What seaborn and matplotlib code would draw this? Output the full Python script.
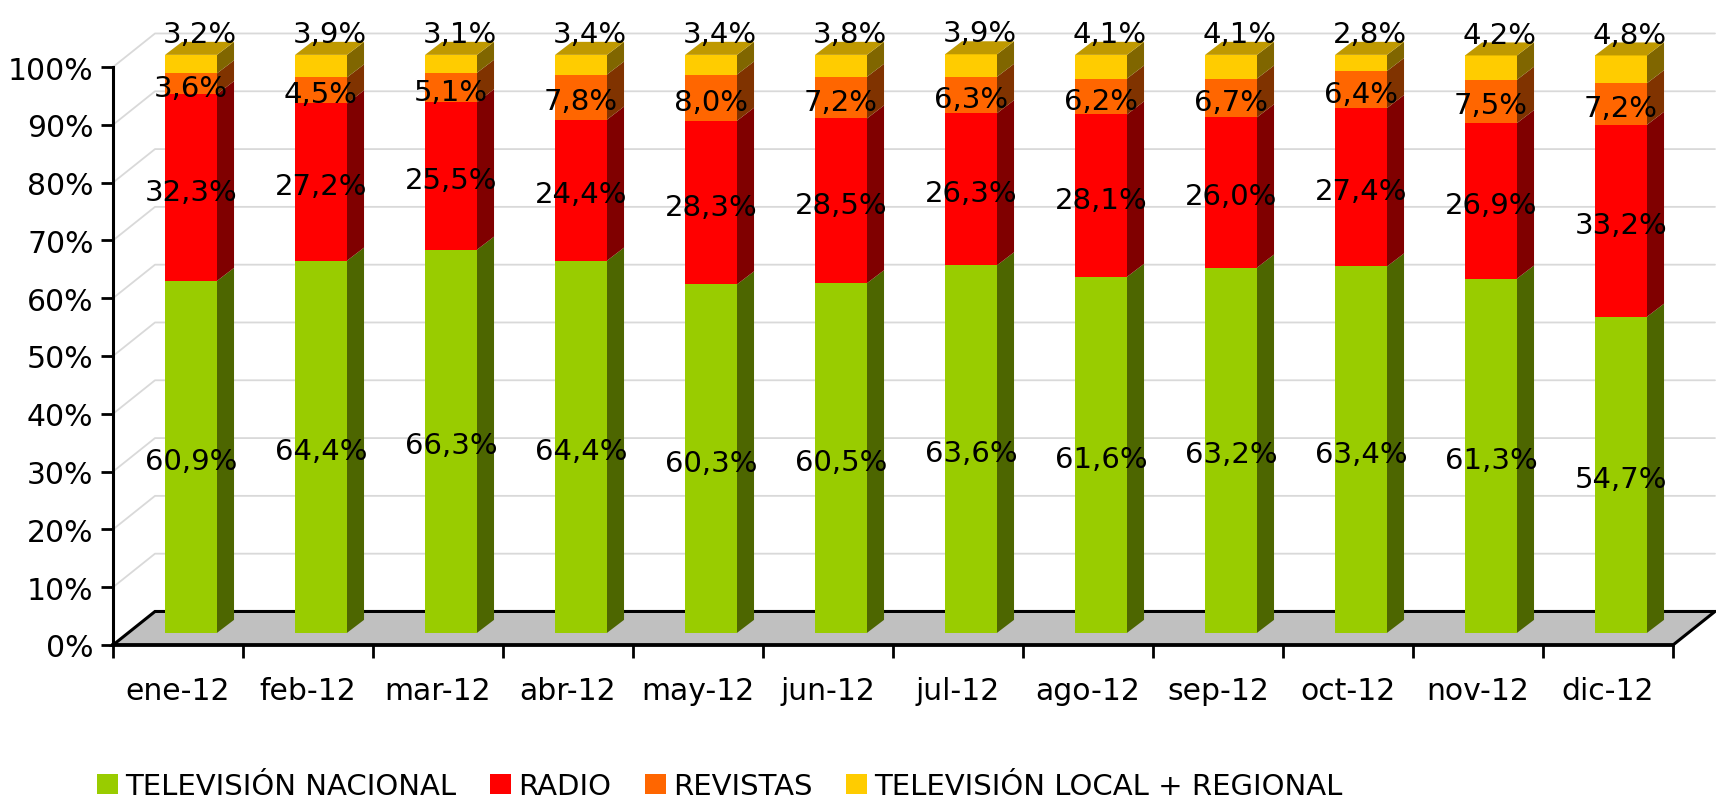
import matplotlib
matplotlib.use("Agg")
import matplotlib.pyplot as plt
import seaborn as sns
from matplotlib.patches import Polygon, Patch
from matplotlib.ticker import FuncFormatter

meses = ["ene-12", "feb-12", "mar-12", "abr-12", "may-12", "jun-12",
         "jul-12", "ago-12", "sep-12", "oct-12", "nov-12", "dic-12"]
series = ["TELEVISIÓN NACIONAL", "RADIO", "REVISTAS", "TELEVISIÓN LOCAL + REGIONAL"]
tv_nacional = [60.9, 64.4, 66.3, 64.4, 60.3, 60.5, 63.6, 61.6, 63.2, 63.4, 61.3, 54.7]
radio = [32.3, 27.2, 25.5, 24.4, 28.3, 28.5, 26.3, 28.1, 26.0, 27.4, 26.9, 33.2]
revistas = [3.6, 4.5, 5.1, 7.8, 8.0, 7.2, 6.3, 6.2, 6.7, 6.4, 7.5, 7.2]
tv_local = [3.2, 3.9, 3.1, 3.4, 3.4, 3.8, 3.9, 4.1, 4.1, 2.8, 4.2, 4.8]
colores = ["#99CC00", "#FF0000", "#FF6600", "#FFCC00"]

valores = [tv_nacional, radio, revistas, tv_local]

sns.set_theme(style="white")
plt.rcParams["font.family"] = ["DejaVu Sans"]
plt.rcParams["text.color"] = "black"
plt.rcParams["xtick.color"] = "black"
plt.rcParams["ytick.color"] = "black"
plt.rcParams["axes.labelcolor"] = "black"


def oscurecer(color, f):
    r, g, b = matplotlib.colors.to_rgb(color)
    return (r * f, g * f, b * f)


def fmt(v):
    return f"{v:.1f}".replace(".", ",") + "%"


# profundidad del piso/pared y de las barras (unidades de datos)
DX, DY = 0.323, 5.8
BDX, BDY = 0.131, 2.25
BASE = 2.1
ANCHO = 0.4
n = len(meses)

fig = plt.figure(figsize=(17.16, 8.04), dpi=100)
ax = fig.add_axes([113 / 1716, 158 / 804, 1560 / 1716, 578 / 804])
ax.set_xlim(0, n)
ax.set_ylim(0, 100)

# pared del fondo y lateral
for v in range(10, 101, 10):
    ax.plot([0, DX, n + DX], [v, v + DY, v + DY], color="#D9D9D9", lw=1.3,
            clip_on=False, zorder=1)

# piso
piso = Polygon([(0, 0), (n, 0), (n + DX, DY), (DX, DY)], closed=True,
               facecolor="#C0C0C0", edgecolor="black", lw=2.2, clip_on=False, zorder=2)
ax.add_patch(piso)

# barras apiladas con caras laterales
abajo = [BASE] * n
for k, (nombre, vals, col) in enumerate(zip(series, valores, colores)):
    xs = [i + 0.4 for i in range(n)]
    ax.bar(xs, vals, width=ANCHO, bottom=abajo, align="edge", color=col,
           edgecolor="none", label=nombre, zorder=3, clip_on=False)
    for i in range(n):
        x1 = xs[i] + ANCHO
        b = abajo[i]
        t = b + vals[i]
        lado = Polygon([(x1, b), (x1 + BDX, b + BDY), (x1 + BDX, t + BDY), (x1, t)],
                       closed=True, facecolor=oscurecer(col, 0.5), edgecolor="none",
                       zorder=3, clip_on=False)
        ax.add_patch(lado)
        if k == len(series) - 1:
            x0 = xs[i]
            tapa = Polygon([(x0, t), (x1, t), (x1 + BDX, t + BDY), (x0 + BDX, t + BDY)],
                           closed=True, facecolor=oscurecer(col, 0.75), edgecolor="none",
                           zorder=3, clip_on=False)
            ax.add_patch(tapa)
            ax.text(x0 + ANCHO / 2 + BDX / 2, t + 3.6, fmt(vals[i]), ha="center",
                    va="center", fontsize=21, zorder=5, clip_on=False)
        else:
            ax.text(xs[i] + ANCHO / 2, b + vals[i] / 2 - 0.7, fmt(vals[i]), ha="center",
                    va="center", fontsize=21, zorder=5, clip_on=False)
    abajo = [a + v for a, v in zip(abajo, vals)]

# ejes
for lado in ["top", "right"]:
    ax.spines[lado].set_visible(False)
ax.spines["left"].set_linewidth(2.2)
ax.spines["bottom"].set_linewidth(2.6)
ax.spines["left"].set_color("black")
ax.spines["bottom"].set_color("black")
ax.spines["left"].set_zorder(4)
ax.spines["bottom"].set_zorder(4)
ax.set_yticks(range(0, 101, 10))
ax.yaxis.set_major_formatter(FuncFormatter(lambda v, p: f"{v:.0f}%"))
ax.tick_params(axis="y", length=9, width=2, pad=5, labelsize=21.5, left=True)
ax.set_xticks([i + 0.5 for i in range(n)], meses)
ax.tick_params(axis="x", which="major", length=0, pad=22, labelsize=21.5)
ax.set_xticks(range(n + 1), minor=True)
ax.tick_params(axis="x", which="minor", length=9, width=2, bottom=True)
ax.grid(False)
ax.set_facecolor("none")

handles = [Patch(facecolor=c, edgecolor="none") for c in colores]
fig.legend(handles, series, loc="lower left", bbox_to_anchor=(97 / 1716, 3 / 804),
           ncol=4, frameon=False, fontsize=21, handlelength=0.72, handleheight=0.7,
           handletextpad=0.25, columnspacing=1.15, borderpad=0, borderaxespad=0)

fig.savefig("out.png", dpi=100)
